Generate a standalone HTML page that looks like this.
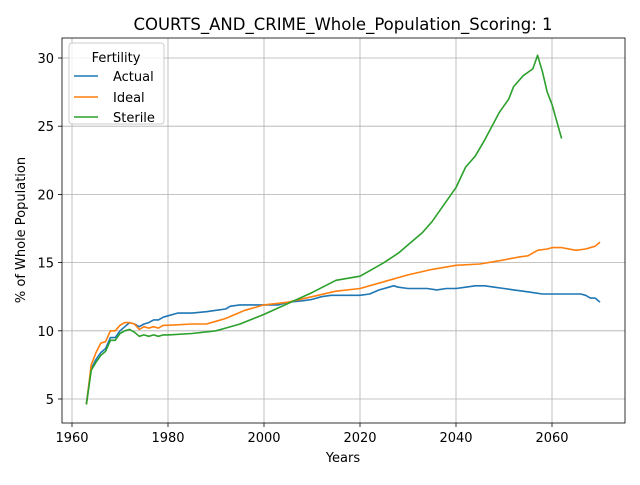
<!DOCTYPE html>
<html><head><meta charset="utf-8"><style>
body{margin:0;background:#fff;font-family:"Liberation Sans","DejaVu Sans",sans-serif}
svg text{font-family:"DejaVu Sans","Liberation Sans",sans-serif}
</style></head><body>
<svg id="chart" width="640" height="480">
<rect width="640" height="480" fill="#fff"/>
<text x="343" y="30" font-size="16.5" text-anchor="middle">COURTS_AND_CRIME_Whole_Population_Scoring: 1</text>
<g id="grid"></g><g id="series"></g><g id="axes"></g>
<text x="343" y="462" font-size="13" text-anchor="middle">Years</text>
<text transform="translate(25,230) rotate(-90)" font-size="13" text-anchor="middle">% of Whole Population</text>
<g>
<rect x="69" y="43" width="95" height="81" rx="3" fill="#fff" fill-opacity="0.8" stroke="#ccc"/>
<text x="116" y="62" font-size="13" text-anchor="middle">Fertility</text>
<line x1="74" y1="76" x2="98" y2="76" stroke="#1f77b4" stroke-width="1.6"/><text x="113" y="81" font-size="13">Actual</text>
<line x1="74" y1="97" x2="98" y2="97" stroke="#ff7f0e" stroke-width="1.6"/><text x="113" y="102" font-size="13">Ideal</text>
<line x1="74" y1="117" x2="98" y2="117" stroke="#2ca02c" stroke-width="1.6"/><text x="113" y="122" font-size="13">Sterile</text>
</g>
</svg>
<script>
const xTicks=[1960,1980,2000,2020,2040,2060];
const yTicks=[5,10,15,20,25,30];
const actualYears=[1963,1964,1965,1966,1967,1968,1969,1970,1971,1972,1973,1974,1975,1976,1977,1978,1979,1980,1982,1985,1988,1990,1992,1993,1995,2000,2003,2005,2008,2010,2012,2014,2016,2020,2022,2024,2026,2027,2028,2030,2032,2034,2036,2038,2040,2042,2044,2046,2048,2050,2052,2054,2056,2058,2060,2062,2064,2066,2067,2068,2069,2070];
const actualValues=[4.7,7.2,7.9,8.4,8.7,9.5,9.5,10.0,10.3,10.6,10.5,10.3,10.5,10.6,10.8,10.8,11.0,11.1,11.3,11.3,11.4,11.5,11.6,11.8,11.9,11.9,11.9,12.1,12.2,12.3,12.5,12.6,12.6,12.6,12.7,13.0,13.2,13.3,13.2,13.1,13.1,13.1,13.0,13.1,13.1,13.2,13.3,13.3,13.2,13.1,13.0,12.9,12.8,12.7,12.7,12.7,12.7,12.7,12.6,12.4,12.4,12.1];
const idealYears=[1963,1964,1965,1966,1967,1968,1969,1970,1971,1972,1973,1974,1975,1976,1977,1978,1979,1980,1985,1988,1990,1992,1994,1996,1998,2000,2005,2010,2015,2020,2025,2030,2035,2040,2045,2050,2053,2055,2057,2059,2060,2062,2065,2067,2069,2070];
const idealValues=[4.6,7.5,8.4,9.1,9.2,10.0,10.0,10.4,10.6,10.6,10.5,10.1,10.3,10.2,10.3,10.2,10.4,10.4,10.5,10.5,10.7,10.9,11.2,11.5,11.7,11.9,12.1,12.5,12.9,13.1,13.6,14.1,14.5,14.8,14.9,15.2,15.4,15.5,15.9,16.0,16.1,16.1,15.9,16.0,16.2,16.5];
const sterileYears=[1963,1964,1965,1966,1967,1968,1969,1970,1971,1972,1973,1974,1975,1976,1977,1978,1979,1980,1985,1990,1992,1995,2000,2005,2010,2015,2020,2022,2025,2028,2030,2033,2035,2038,2040,2042,2044,2046,2049,2051,2052,2054,2056,2057,2058,2059,2060,2062];
const sterileValues=[4.6,7.1,7.7,8.2,8.5,9.3,9.3,9.8,10.0,10.1,9.9,9.6,9.7,9.6,9.7,9.6,9.7,9.7,9.8,10.0,10.2,10.5,11.2,12.0,12.8,13.7,14.0,14.4,15.0,15.7,16.3,17.2,18.0,19.5,20.5,22.0,22.8,24.0,26.0,27.0,27.9,28.7,29.2,30.2,29.0,27.5,26.6,24.1];
const NS='http://www.w3.org/2000/svg';
const L=62,R=625,T=38,B=423;
const xs=v=>72+(v-1960)*4.8;
const ys=v=>399-(v-5)*13.64;
function mk(tag,attrs,parent){const e=document.createElementNS(NS,tag);for(const k in attrs)e.setAttribute(k,attrs[k]);parent.appendChild(e);return e;}
const grid=document.getElementById('grid'),axes=document.getElementById('axes'),ser=document.getElementById('series');
xTicks.forEach(t=>{const x=xs(t);
const g=mk('line',{x1:x,x2:x,y1:T,y2:B,stroke:'#b0b0b0','stroke-width':0.8},grid);


mk('line',{x1:x,x2:x,y1:B,y2:B+4,stroke:'#000','stroke-width':0.8},axes);
const tx=mk('text',{x:x,y:B+19,'font-size':13,'text-anchor':'middle'},axes);tx.textContent=t;

});
yTicks.forEach(t=>{const y=ys(t);
const g=mk('line',{x1:L,x2:R,y1:y,y2:y,stroke:'#b0b0b0','stroke-width':0.8},grid);


mk('line',{x1:L-4,x2:L,y1:y,y2:y,stroke:'#000','stroke-width':0.8},axes);
const tx=mk('text',{x:L-8,y:y+5,'font-size':13,'text-anchor':'end'},axes);tx.textContent=t;

});
const fr=mk('rect',{x:L,y:T,width:R-L,height:B-T,fill:'none',stroke:'#000','stroke-width':0.8},axes);


function line(years,vals,color,name){const d=years.map((y,i)=>(i?'L':'M')+xs(y).toFixed(1)+','+ys(vals[i]).toFixed(1)).join('');
const p=mk('path',{d:d,fill:'none',stroke:color,'stroke-width':1.6,'stroke-linejoin':'round'},ser);

}
line(actualYears,actualValues,'#1f77b4','actual-line');
line(idealYears,idealValues,'#ff7f0e','ideal-line');
line(sterileYears,sterileValues,'#2ca02c','sterile-line');
</script>
</body></html>
